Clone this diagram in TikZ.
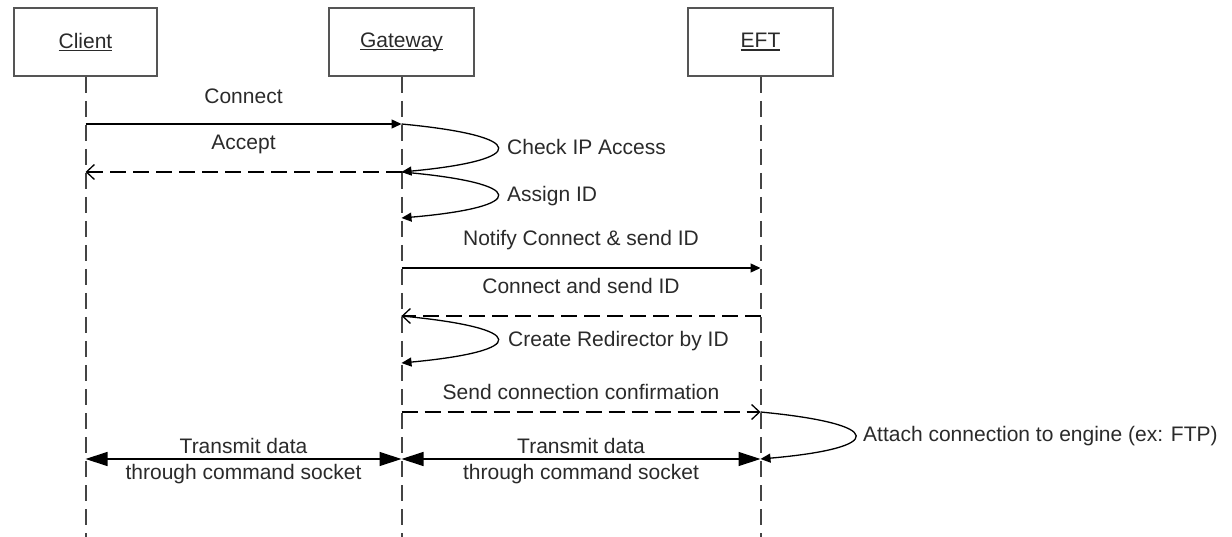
\documentclass[tikz,border=0pt]{standalone}
\usepackage{fontspec}
\setmainfont{Liberation Sans}
\usetikzlibrary{arrows.meta}
\definecolor{txt}{HTML}{2A2A2A}
\definecolor{boxc}{HTML}{555555}
\definecolor{lifec}{HTML}{444444}
\newcommand\ulname[1]{\setbox0\hbox{#1}\rlap{\rule[-3pt]{\wd0}{1.5pt}}\box0}
\begin{document}
\begin{tikzpicture}[x=1pt,y=-1pt,
  every node/.style={font=\fontsize{21}{26}\selectfont, text=txt},
  actor/.style={draw=boxc, line width=2pt, minimum height=68pt, inner sep=0pt},
  life/.style={draw=lifec, line width=2pt, dash pattern=on 16pt off 8pt},
  msg/.style={draw=black, line width=1.3pt, -{Triangle[length=10pt,width=9pt]}},
  ret/.style={draw=black, line width=1.3pt, dash pattern=on 16pt off 7pt, -{Straight Barb[length=8pt,width=15pt,line width=1.3pt]}},
  selfloop/.style={draw=black, line width=1.3pt, -{Triangle[length=10pt,width=9pt]}},
  data/.style={draw=black, line width=1.3pt, {Triangle[length=22pt,width=14pt]}-{Triangle[length=22pt,width=14pt]}},
  lbl/.style={inner sep=0pt},
]
\useasboundingbox (0,0) rectangle (1232,537);

% actors
\node[actor, minimum width=143pt] (client) at (85.5,42) {\ulname{Client}};
\node[actor, minimum width=145pt] (gate) at (401.5,42) {\ulname{Gateway}};
\node[actor, minimum width=145pt] (eft) at (760.5,42) {\ulname{EFT}};

% levels
\coordinate (bot) at (0,537);
\coordinate (y1) at (0,124);
\coordinate (y2) at (0,172);
\coordinate (y3) at (0,218);
\coordinate (y4) at (0,268);
\coordinate (y5) at (0,316);
\coordinate (y6) at (0,363);
\coordinate (y7) at (0,412);
\coordinate (y8) at (0,459);

% lifelines
\draw[life] (client.south) -- (client.south |- bot);
\draw[life] (gate.south) -- (gate.south |- bot);
\draw[life] (eft.south) -- (eft.south |- bot);

% messages
\draw[msg] (client |- y1) -- (gate |- y1);
\node[lbl] (lconnect) at (243.5,96) {Connect};

\draw[selfloop] (gate |- y1) .. controls +(128,12) and +(128,-12) .. (gate |- y2);
\node[lbl, anchor=west] (lcheck) at (507,147) {Check IP Access};

\draw[ret] (gate |- y2) -- (client |- y2);
\node[lbl] (laccept) at (243.5,144) {Accept};

\draw[selfloop] (gate |- y2) .. controls +(128,11) and +(128,-11) .. (gate |- y3);
\node[lbl, anchor=west] (lassign) at (507,196) {Assign ID};

\draw[msg] (gate |- y4) -- (eft |- y4);
\node[lbl] (lnotify) at (581,240) {Notify Connect \& send ID};

\draw[ret] (eft |- y5) -- (gate |- y5);
\node[lbl] (lconnsend) at (581,286) {Connect and send ID};

\draw[selfloop] (gate |- y5) .. controls +(128,12) and +(128,-12) .. (gate |- y6);
\node[lbl, anchor=west] (lcreate) at (508,341) {Create Redirector by ID};

\draw[ret] (gate |- y7) -- (eft |- y7);
\node[lbl] (lsendconf) at (581,392) {Send connection confirmation};

\draw[selfloop] (eft |- y7) .. controls +(126,12) and +(126,-11) .. (eft |- y8);
\node[lbl, anchor=west] (lattach) at (863,436) {Attach connection to engine (ex: FTP)};

\draw[data] (client |- y8) -- (gate |- y8);
\node[lbl, align=center] (ldata1) at (243.5,461) {Transmit data\\through command socket};

\draw[data] (gate |- y8) -- (eft |- y8);
\node[lbl, align=center] (ldata2) at (581,461) {Transmit data\\through command socket};
\end{tikzpicture}
\end{document}
